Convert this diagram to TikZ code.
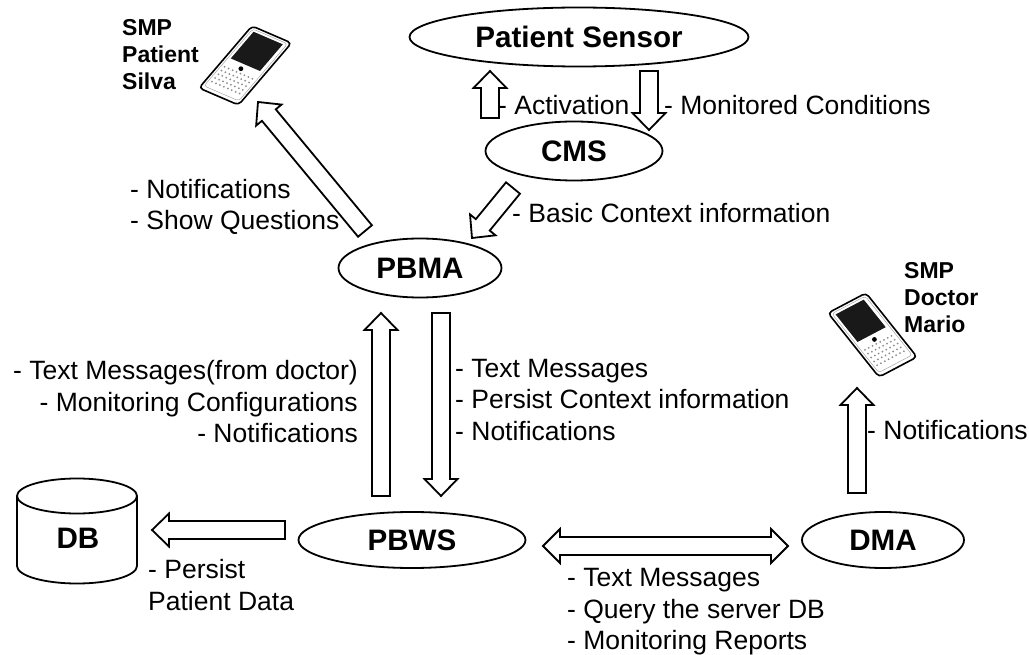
\documentclass[tikz,border=0pt]{standalone}
\usepackage{fontspec}
\setmainfont{Liberation Sans}
\usetikzlibrary{shapes.geometric, calc}

% wide hollow arrow between two named points
\newcommand{\fatarrow}[2]{
	\coordinate (neck) at ($(#2)!17pt!(#1)$);
	\draw[fat] ($(#1)!9pt!90:(#2)$) -- ($(neck)!9pt!90:(#2)$) -- ($(neck)!16.5pt!90:(#2)$) -- (#2)
		-- ($(neck)!16.5pt!-90:(#2)$) -- ($(neck)!9pt!-90:(#2)$) -- ($(#1)!9pt!-90:(#2)$) -- cycle;
}
\newcommand{\fatdoublearrow}[2]{
	\coordinate (neck) at ($(#2)!17pt!(#1)$);
	\coordinate (neckb) at ($(#1)!17pt!(#2)$);
	\draw[fat] (#1) -- ($(neckb)!17pt!90:(#2)$) -- ($(neckb)!9pt!90:(#2)$) -- ($(neck)!9pt!90:(#2)$) -- ($(neck)!17pt!90:(#2)$) -- (#2)
		-- ($(neck)!17pt!-90:(#2)$) -- ($(neck)!9pt!-90:(#2)$) -- ($(neckb)!9pt!-90:(#2)$) -- ($(neckb)!17pt!-90:(#2)$) -- cycle;
}
% corner, then the two side vectors
\newcommand{\smpphone}[3]{
	\begin{scope}[shift={#1},x={#2},y={#3}]
		\draw[line width=1.6pt,rounded corners=4pt,fill=white] (0,0) -- (1,0) -- (1,1) -- (0,1) -- cycle;
		\draw[black!40,rounded corners=3pt] (.06,.03) -- (.94,.03) -- (.94,.95) -- (.06,.95) -- cycle;
		\fill[black!90] (.12,.06) -- (.86,.06) -- (.86,.49) -- (.12,.49) -- cycle;
		\foreach \row in {.62,.68,...,.9}
			\foreach \col in {.14,.24,...,.88}
				\fill[black!45] (\col,\row) circle (1pt);
		\fill[black] (.47,.56) circle (2.4pt);
	\end{scope}
}

\begin{document}
\begin{tikzpicture}[x=1pt,y=-1pt]
	\tikzstyle{fat}=[draw,line width=1.8pt,miter limit=4,fill=white]
	\tikzstyle{module}=[draw,ellipse,line width=1.8pt,inner sep=0pt,font=\fontsize{29.6}{34}\selectfont\bfseries]
	\tikzstyle{note}=[anchor=west,align=left,inner sep=0pt,font=\fontsize{26.5}{31.5}\selectfont]
	\tikzstyle{noter}=[anchor=east,align=right,inner sep=0pt,font=\fontsize{26.5}{31.5}\selectfont]
	\tikzstyle{owner}=[anchor=west,align=left,inner sep=0pt,font=\fontsize{23}{27}\selectfont\bfseries]
	\useasboundingbox (0,0) rectangle (1029,655);

	\node[module,minimum width=339pt,minimum height=59pt] (sensor) at (579,37) {Patient Sensor};
	\node[module,minimum width=177pt,minimum height=59pt] (cms) at (574,151) {CMS};
	\node[module,minimum width=163pt,minimum height=59pt] (pbma) at (420,268) {PBMA};
	\node[module,minimum width=227pt,minimum height=56pt] (pbws) at (412,540) {PBWS};
	\node[module,minimum width=162pt,minimum height=56pt] (dma) at (883,540) {DMA};

	% database
	\draw[line width=1.8pt,fill=white] (17,496) -- (17,566) arc (180:0:60 and 17.5) -- (137,496);
	\draw[line width=1.8pt,fill=white] (77,496) ellipse (60 and 17.5);
	\node[font=\fontsize{29.6}{34}\selectfont\bfseries] (db) at (78,538) {DB};

	\smpphone{(252,26)}{(39.5pt,-17pt)}{(-53pt,-62pt)}
	\smpphone{(828,313)}{(38pt,20pt)}{(51pt,-64pt)}
	\node[owner] (silva) at (122,55) {SMP\\Patient\\Silva};
	\node[owner] (mario) at (904,298) {SMP\\Doctor\\Mario};

	\coordinate (act1) at (490,118);
	\coordinate (act2) at (490,71);
	\coordinate (mon1) at (649,71);
	\coordinate (mon2) at (649,130);
	\coordinate (ctx1) at (513,188);
	\coordinate (ctx2) at (472,238);
	\coordinate (show1) at (365,231);
	\coordinate (show2) at (258,102);
	\coordinate (up1) at (381,496);
	\coordinate (up2) at (381,313);
	\coordinate (down1) at (441,313);
	\coordinate (down2) at (441,496);
	\coordinate (data1) at (285,530);
	\coordinate (data2) at (152,530);
	\coordinate (srv1) at (543,546);
	\coordinate (srv2) at (788,546);
	\coordinate (dmaup1) at (857,493);
	\coordinate (dmaup2) at (857,388);

	\fatarrow{act1}{act2}
	\fatarrow{mon1}{mon2}
	\fatarrow{ctx1}{ctx2}
	\fatarrow{show1}{show2}
	\fatarrow{up1}{up2}
	\fatarrow{down1}{down2}
	\fatarrow{data1}{data2}
	\fatarrow{dmaup1}{dmaup2}
	\fatdoublearrow{srv1}{srv2}

	\node[note] (lact) at (498,105) {- Activation};
	\node[note] (lmon) at (664,105) {- Monitored Conditions};
	\node[note] (lctx) at (512,213) {- Basic Context information};
	\node[note] (lshow) at (130,207) {- Notifications\\- Show Questions};
	\node[noter] (lup) at (358,402) {- Text Messages(from doctor)\\- Monitoring Configurations\\- Notifications};
	\node[note] (ldown) at (455,400) {- Text Messages\\- Persist Context information\\- Notifications};
	\node[note] (ldma) at (867,430) {- Notifications};
	\node[note] (ldata) at (148,585) {- Persist\\Patient Data};
	\node[note] (lsrv) at (567,612) {- Text Messages\\- Query the server DB\\- Monitoring Reports};
\end{tikzpicture}
\end{document}
